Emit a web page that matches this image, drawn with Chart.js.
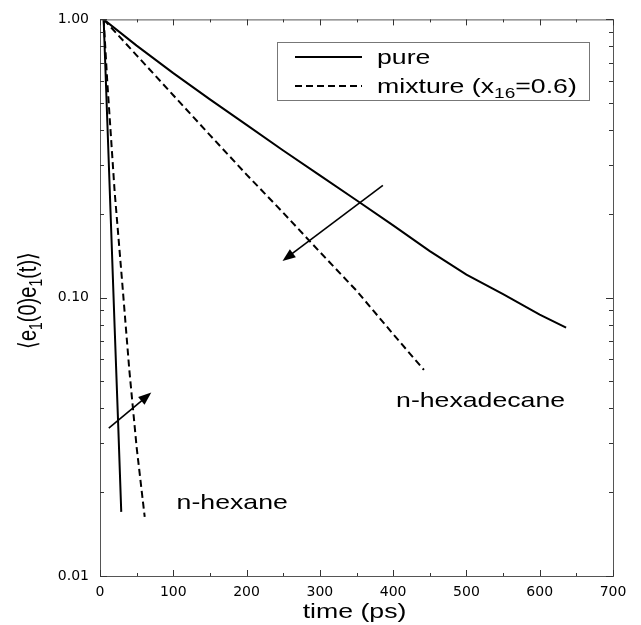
<!DOCTYPE html>
<html>
<head>
<meta charset="utf-8">
<script src="https://cdn.jsdelivr.net/npm/chart.js@4"></script>
<style>
  html, body { margin: 0; padding: 0; background: #fff; }
  #wrap { width: 641px; height: 625px; }
</style>
</head>
<body>
<div id="wrap"><canvas id="myChart" width="641" height="625"></canvas></div>
<script>
// data (time in ps, correlation on log axis)
const seriesLabels = ['pure', 'mixture (x_{16}=0.6)'];

const hexadecanePureTime = [5, 50, 100, 150, 200, 250, 300, 350, 400, 450, 500, 550, 600, 636];
const hexadecanePure = [1.0, 0.805, 0.641, 0.516, 0.418, 0.338, 0.275, 0.224, 0.182, 0.147, 0.121, 0.103, 0.087, 0.078];

const hexadecaneMixTime = [5, 50, 100, 150, 200, 250, 300, 350, 400, 442];
const hexadecaneMix = [1.0, 0.743, 0.534, 0.384, 0.277, 0.202, 0.146, 0.106, 0.074, 0.055];

const hexanePureTime = [5, 10, 15, 20, 25, 29];
const hexanePure = [1.0, 0.428, 0.183, 0.078, 0.034, 0.017];

const hexaneMixTime = [5, 10, 20, 30, 40, 50, 61];
const hexaneMix = [1.0, 0.593, 0.24, 0.116, 0.055, 0.029, 0.0163];

const yTickLabels = ['0.01', '0.10', '1.00'];
const xTickStep = 100;

// annotations, in data units
const curveLabels = [
  { text: 'n-hexadecane', x: 404, y: 0.0405 },
  { text: 'n-hexane', x: 104.5, y: 0.0174 }
];
const arrows = [
  { from: [386, 0.2535], to: [249, 0.1355] },
  { from: [12, 0.034], to: [70, 0.0456] }
];

const xTitle = 'time (ps)';
const yTitle = '\u27E8e_{1}(0)e_{1}(t)\u27E9';

const SX = 1.27; // figure text is stretched horizontally

const pts = (xs, ys) => xs.map((x, i) => ({ x: x, y: ys[i] }));

function richParts(s) {
  const out = [];
  const re = /_\{([^}]*)\}/g;
  let last = 0, m;
  while ((m = re.exec(s))) {
    if (m.index > last) out.push([s.slice(last, m.index), false]);
    out.push([m[1], true]);
    last = re.lastIndex;
  }
  if (last < s.length) out.push([s.slice(last), false]);
  return out;
}

function drawRich(ctx, s, size, align) {
  const parts = richParts(s);
  const fonts = parts.map(p => (p[1] ? Math.round(size * 0.72) : size) + 'px "Liberation Sans", Arial, sans-serif');
  let w = 0;
  parts.forEach((p, i) => { ctx.font = fonts[i]; w += ctx.measureText(p[0]).width; });
  let cx = align === 'center' ? -w / 2 : 0;
  ctx.textAlign = 'left';
  ctx.textBaseline = 'alphabetic';
  parts.forEach((p, i) => {
    ctx.font = fonts[i];
    ctx.fillText(p[0], cx, p[1] ? size * 0.24 : 0);
    cx += ctx.measureText(p[0]).width;
  });
}

function arrow(ctx, x1, y1, x2, y2) {
  const a = Math.atan2(y2 - y1, x2 - x1);
  const L = 13, W = 5;
  ctx.beginPath();
  ctx.moveTo(x1, y1);
  ctx.lineTo(x2 - Math.cos(a) * L * 0.8, y2 - Math.sin(a) * L * 0.8);
  ctx.stroke();
  ctx.beginPath();
  ctx.moveTo(x2, y2);
  ctx.lineTo(x2 - Math.cos(a) * L - Math.sin(a) * W, y2 - Math.sin(a) * L + Math.cos(a) * W);
  ctx.lineTo(x2 - Math.cos(a) * L + Math.sin(a) * W, y2 - Math.sin(a) * L - Math.cos(a) * W);
  ctx.closePath();
  ctx.fill();
}

const figurePlugin = {
  id: 'figure',
  afterDraw(chart) {
    const ctx = chart.ctx;
    const a = chart.chartArea;
    const xs = chart.scales.x, ys = chart.scales.y;
    ctx.save();

    // frame
    ctx.strokeStyle = '#555';
    ctx.lineWidth = 1;
    ctx.strokeRect(a.left + 0.5, a.top + 0.5, a.right - a.left, a.bottom - a.top);

    // inward ticks on all four sides
    ctx.strokeStyle = '#333';
    ctx.beginPath();
    for (let v = xs.min; v <= xs.max; v += xTickStep / 2) {
      const px = Math.round(xs.getPixelForValue(v)) + 0.5;
      const len = v % xTickStep === 0 ? 6 : 3;
      ctx.moveTo(px, a.bottom); ctx.lineTo(px, a.bottom - len);
      ctx.moveTo(px, a.top); ctx.lineTo(px, a.top + len);
    }
    ys.ticks.forEach(t => {
      const py = Math.round(ys.getPixelForValue(t.value)) + 0.5;
      const k = Math.log10(t.value);
      const len = Math.abs(k - Math.round(k)) < 1e-9 ? 7 : 4;
      ctx.moveTo(a.left, py); ctx.lineTo(a.left + len, py);
      ctx.moveTo(a.right, py); ctx.lineTo(a.right - len, py);
    });
    ctx.stroke();

    ctx.fillStyle = '#000';
    ctx.strokeStyle = '#000';

    // curve labels
    curveLabels.forEach(l => {
      ctx.save();
      ctx.translate(xs.getPixelForValue(l.x), ys.getPixelForValue(l.y));
      ctx.scale(SX, 1);
      drawRich(ctx, l.text, 21, 'left');
      ctx.restore();
    });

    // arrows
    ctx.lineWidth = 1.6;
    arrows.forEach(ar => {
      arrow(ctx,
        xs.getPixelForValue(ar.from[0]), ys.getPixelForValue(ar.from[1]),
        xs.getPixelForValue(ar.to[0]), ys.getPixelForValue(ar.to[1]));
    });

    // legend
    ctx.lineWidth = 1;
    ctx.strokeStyle = '#777';
    ctx.strokeRect(277.5, 42.5, 312, 58);
    ctx.strokeStyle = '#000';
    const ds = chart.data.datasets;
    seriesLabels.forEach((lab, i) => {
      const ly = 57 + i * 29;
      ctx.lineWidth = ds[i].borderWidth;
      ctx.setLineDash(ds[i].borderDash || []);
      ctx.beginPath();
      ctx.moveTo(295, ly); ctx.lineTo(362, ly);
      ctx.stroke();
      ctx.setLineDash([]);
      ctx.save();
      ctx.translate(377, ly + 7);
      ctx.scale(SX, 1);
      drawRich(ctx, lab, 21, 'left');
      ctx.restore();
    });

    // axis titles
    ctx.save();
    ctx.translate((a.left + a.right) / 2 - 2, 618);
    ctx.scale(SX, 1);
    drawRich(ctx, xTitle, 21, 'center');
    ctx.restore();

    ctx.save();
    ctx.translate(36, 300.5);
    ctx.rotate(-Math.PI / 2);
    ctx.scale(1, SX);
    drawRich(ctx, yTitle, 20, 'center');
    ctx.restore();

    ctx.restore();
  }
};

const line = (data, dashed) => ({
  data: data,
  borderColor: '#000',
  borderWidth: 2,
  borderDash: dashed ? [7, 4] : [],
  pointRadius: 0,
  fill: false,
  tension: 0
});

const ctx = document.getElementById('myChart').getContext('2d');
new Chart(ctx, {
  type: 'line',
  data: {
    datasets: [
      line(pts(hexadecanePureTime, hexadecanePure), false),
      line(pts(hexadecaneMixTime, hexadecaneMix), true),
      line(pts(hexanePureTime, hexanePure), false),
      line(pts(hexaneMixTime, hexaneMix), true)
    ]
  },
  options: {
    responsive: false,
    devicePixelRatio: 1,
    animation: false,
    layout: { padding: { top: 15, right: 28, left: 0, bottom: 0 } },
    plugins: { legend: { display: false }, tooltip: { enabled: false } },
    scales: {
      x: {
        type: 'linear',
        min: 0,
        max: 700,
        grid: { display: false, drawTicks: false },
        border: { display: false },
        ticks: {
          stepSize: xTickStep,
          padding: 8,
          maxRotation: 0,
          color: '#000',
          font: { family: '"DejaVu Sans"', size: 14 }
        },
        afterFit: s => { s.height = 49; }
      },
      y: {
        type: 'logarithmic',
        min: 0.01,
        max: 1,
        grid: { display: false, drawTicks: false },
        border: { display: false },
        afterBuildTicks: s => {
          const t = [];
          for (let d = -2; d < 0; d++) {
            for (let m = 1; m < 10; m++) t.push({ value: m * Math.pow(10, d) });
          }
          t.push({ value: 1 });
          s.ticks = t;
        },
        ticks: {
          autoSkip: false,
          padding: 11,
          color: '#000',
          font: { family: '"DejaVu Sans"', size: 14 },
          callback: v => {
            const k = Math.log10(v);
            return Math.abs(k - Math.round(k)) < 1e-9 ? yTickLabels[Math.round(k) + 2] : '';
          }
        },
        afterFit: s => { s.width = 100; }
      }
    }
  },
  plugins: [figurePlugin]
});
</script>
</body>
</html>
